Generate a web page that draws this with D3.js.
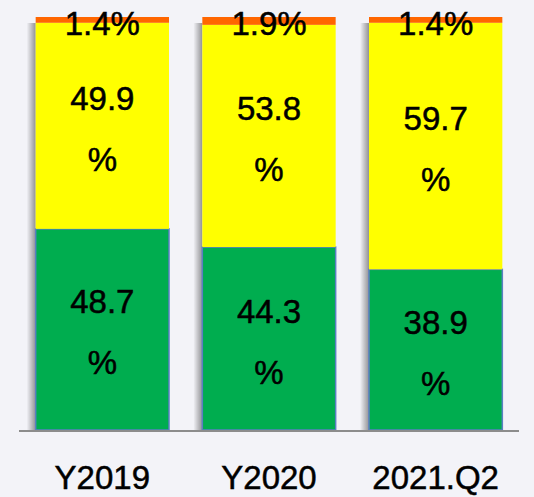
<!DOCTYPE html>
<html>
<head>
<meta charset="utf-8">
<script src="https://cdn.jsdelivr.net/npm/d3@7"></script>
<style>
  body { margin: 0; background: #f3f3f8; }
  text { font-family: "Liberation Sans", Arial, sans-serif; fill: #000; stroke: #000; stroke-width: 0.5px; }
</style>
</head>
<body>
<div id="chart"></div>
<script>
// chart data
var categories = ['Y2019', 'Y2020', '2021.Q2']
var greenValues = [48.7, 44.3, 38.9]
var yellowValues = [49.9, 53.8, 59.7]
var orangeValues = [1.4, 1.9, 1.4]

var width = 534, height = 497
var margin = {top: 17, right: 15, bottom: 67, left: 19}

var svg = d3.select('#chart')
  .append('svg')
  .attr('width', width)
  .attr('height', height)

// soft slide-like background
svg.append('rect')
  .attr('width', width).attr('height', height)
  .attr('fill', '#f3f3f8')

var defs = svg.append('defs')
var grad = defs.append('linearGradient').attr('id', 'shadow')
grad.append('stop').attr('offset', '0%').attr('stop-color', '#000').attr('stop-opacity', 0)
grad.append('stop').attr('offset', '100%').attr('stop-color', '#000').attr('stop-opacity', 0.4)

var x = d3.scaleBand()
  .domain(categories)
  .range([margin.left, width - margin.right])
  .paddingInner(0.2)
  .paddingOuter(0.1)

var y = d3.scaleLinear()
  .domain([0, 100])
  .range([height - margin.bottom, margin.top])

var rows = categories.map(function(c, i) {
  return {cat: c, green: greenValues[i], yellow: yellowValues[i], orange: orangeValues[i]}
})
var stack = d3.stack().keys(['green', 'yellow', 'orange'])(rows)
var colors = {green: '#00ad4f', yellow: '#ffff00', orange: '#ff6600'}

// left shadows
svg.selectAll('.shadow')
  .data(rows)
  .enter().append('rect')
  .attr('x', function(d) { return x(d.cat) - 9 })
  .attr('y', y(100) + 6)
  .attr('width', 9)
  .attr('height', y(0) - y(100) - 6)
  .attr('fill', 'url(#shadow)')

stack.forEach(function(layer) {
  svg.selectAll('.bar-' + layer.key)
    .data(layer)
    .enter().append('rect')
    .attr('x', function(d) { return x(d.data.cat) })
    .attr('y', function(d) { return y(d[1]) })
    .attr('width', x.bandwidth())
    .attr('height', function(d) { return y(d[0]) - y(d[1]) })
    .attr('fill', colors[layer.key])
    .attr('stroke', layer.key == 'green' ? '#5a7fc2' : 'none')
    .attr('stroke-width', 1.5)
})

// axis line
svg.append('line')
  .attr('x1', margin.left).attr('x2', width - margin.right)
  .attr('y1', y(0) + 1).attr('y2', y(0) + 1)
  .attr('stroke', '#8c8c8c')
  .attr('stroke-width', 2)

// two-line labels for green and yellow
stack.slice(0, 2).forEach(function(layer) {
  var g = svg.selectAll('.lab-' + layer.key)
    .data(layer)
    .enter().append('g')
    .attr('transform', function(d) {
      return 'translate(' + (x(d.data.cat) + x.bandwidth() / 2) + ',' + (y(d[0]) + y(d[1])) / 2 + ')'
    })
  g.append('text')
    .attr('text-anchor', 'middle')
    .attr('y', -16)
    .style('font-size', '33px')
    .text(function(d) { return (d[1] - d[0]).toFixed(1) })
  g.append('text')
    .attr('text-anchor', 'middle')
    .attr('y', 45)
    .style('font-size', '33px')
    .text('%')
})

// top labels
svg.selectAll('.lab-top')
  .data(rows)
  .enter().append('text')
  .attr('x', function(d) { return x(d.cat) + x.bandwidth() / 2 })
  .attr('y', y(100) + 18)
  .attr('text-anchor', 'middle')
  .style('font-size', '33px')
  .text(function(d) { return d.orange.toFixed(1) + '%' })

// category labels
svg.selectAll('.cat')
  .data(categories)
  .enter().append('text')
  .attr('x', function(d) { return x(d) + x.bandwidth() / 2 })
  .attr('y', 489)
  .attr('text-anchor', 'middle')
  .style('font-size', '33px')
  .text(function(d) { return d })
</script>
</body>
</html>
